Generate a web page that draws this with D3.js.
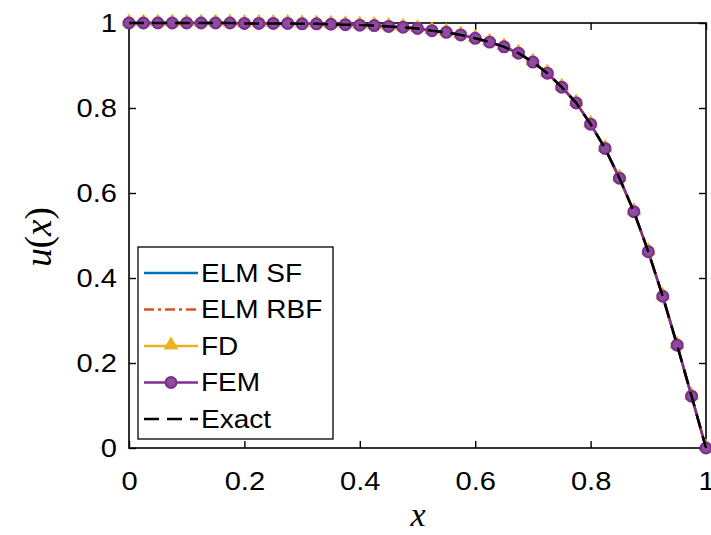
<!DOCTYPE html>
<html>
<head>
<meta charset="utf-8">
<script src="https://cdn.jsdelivr.net/npm/d3@7"></script>
<style>
  body { margin: 0; background: #fff; }
  svg text { font-family: "Liberation Sans", Arial, sans-serif; }
  .stretch { transform-box: fill-box; }
</style>
</head>
<body>
<svg id="chart" width="711" height="535"></svg>
<script>
const xs = [0, 0.025, 0.05, 0.075, 0.1, 0.125, 0.15, 0.175, 0.2, 0.225,
  0.25, 0.275, 0.3, 0.325, 0.35, 0.375, 0.4, 0.425, 0.45, 0.475,
  0.5, 0.525, 0.55, 0.575, 0.6, 0.625, 0.65, 0.675, 0.7, 0.725,
  0.75, 0.775, 0.8, 0.825, 0.85, 0.875, 0.9, 0.925, 0.95, 0.975, 1];

// u(x) values
const uExact = [1.000, 1.000, 1.000, 1.000, 1.000, 1.000, 1.000, 1.000, 0.999, 0.999,
  0.999, 0.999, 0.998, 0.998, 0.997, 0.996, 0.995, 0.994, 0.992, 0.990,
  0.987, 0.982, 0.978, 0.972, 0.964, 0.955, 0.944, 0.929, 0.908, 0.882,
  0.849, 0.812, 0.762, 0.705, 0.635, 0.556, 0.462, 0.357, 0.242, 0.122, 0.000];
// the numerical solutions sit on top of the exact one in the picture
const uElmSF = uExact.slice();
const uElmRBF = uExact.slice();
const uFD = uExact.slice();
const uFEM = uExact.slice();

const xTicks = [0, 0.2, 0.4, 0.6, 0.8, 1];
const yTicks = [0, 0.2, 0.4, 0.6, 0.8, 1];
const legendNames = ["ELM SF", "ELM RBF", "FD", "FEM", "Exact"];

const svg = d3.select("#chart");
const plotLeft = 129, plotRight = 706, plotTop = 23, plotBottom = 448;
const STRETCH = "scaleX(1.12)"; // the reference text is a bit wide

const x = d3.scaleLinear().domain([0, 1]).range([plotLeft, plotRight]);
const y = d3.scaleLinear().domain([0, 1]).range([plotBottom, plotTop]);

const colors = {
  sf: "#0072BD",
  rbf: "#D95319",
  fd: "#EDB120",
  fem: "#7E2F8E",
  femFill: "#8c4d9c",
  exact: "#000000"
};

// axes with inward ticks
let gx = svg.append("g").attr("transform", "translate(0," + plotBottom + ")")
  .call(d3.axisBottom(x).tickValues(xTicks).tickFormat(d3.format("~g"))
    .tickSizeInner(-7).tickSizeOuter(0).tickPadding(24));
let gy = svg.append("g").attr("transform", "translate(" + plotLeft + ",0)")
  .call(d3.axisLeft(y).tickValues(yTicks).tickFormat(d3.format("~g"))
    .tickSizeInner(-7).tickSizeOuter(0).tickPadding(12));
let gxTop = svg.append("g").attr("transform", "translate(0," + plotTop + ")")
  .call(d3.axisTop(x).tickValues(xTicks).tickSizeInner(-7).tickSizeOuter(0).tickFormat(""));
let gyRight = svg.append("g").attr("transform", "translate(" + plotRight + ",0)")
  .call(d3.axisRight(y).tickValues(yTicks).tickSizeInner(-7).tickSizeOuter(0).tickFormat(""));

[gx, gy, gxTop, gyRight].forEach(function (g) {
  g.select(".domain").remove();
  g.selectAll("line").attr("stroke", "#000").attr("stroke-width", 1.4);
  g.selectAll("text").attr("fill", "#000").style("font-size", "26px")
    .attr("class", "stretch");
});
gx.selectAll("text").style("transform-origin", "center").style("transform", STRETCH);
gy.selectAll("text").style("transform-origin", "right center").style("transform", STRETCH);

svg.append("rect")
  .attr("x", plotLeft).attr("y", plotTop)
  .attr("width", plotRight - plotLeft).attr("height", plotBottom - plotTop)
  .attr("fill", "none").attr("stroke", "#000").attr("stroke-width", 1.6);

// data lines
function lineOf(vals) {
  return d3.line()
    .x(function (d, i) { return x(xs[i]); })
    .y(function (d) { return y(d); })(vals);
}

svg.append("path").attr("d", lineOf(uElmSF))
  .attr("fill", "none").attr("stroke", colors.sf).attr("stroke-width", 2.5);
svg.append("path").attr("d", lineOf(uElmRBF))
  .attr("fill", "none").attr("stroke", colors.rbf).attr("stroke-width", 2.5)
  .attr("stroke-dasharray", "14,5,3,5");
svg.append("path").attr("d", lineOf(uFD))
  .attr("fill", "none").attr("stroke", colors.fd).attr("stroke-width", 2.5);

const tri = d3.symbol().type(d3.symbolTriangle).size(80);
svg.append("g").selectAll("path")
  .data(uFD)
  .join("path")
  .attr("d", tri)
  .attr("transform", function (d, i) { return "translate(" + x(xs[i]) + "," + (y(d) - 1) + ")"; })
  .attr("fill", colors.fd).attr("stroke", colors.fd).attr("stroke-width", 1);

svg.append("path").attr("d", lineOf(uFEM))
  .attr("fill", "none").attr("stroke", colors.fem).attr("stroke-width", 2.5);
svg.append("g").selectAll("circle")
  .data(uFEM)
  .join("circle")
  .attr("cx", function (d, i) { return x(xs[i]); })
  .attr("cy", function (d) { return y(d); })
  .attr("r", 5.4)
  .attr("fill", colors.femFill)
  .attr("stroke", colors.fem).attr("stroke-width", 2.2);

svg.append("path").attr("d", lineOf(uExact))
  .attr("fill", "none").attr("stroke", colors.exact).attr("stroke-width", 2.5)
  .attr("stroke-dasharray", "15,8");

// axis labels (LaTeX style)
svg.append("text")
  .attr("transform", "translate(51,237) rotate(-90)")
  .attr("text-anchor", "middle")
  .style("font-family", "'Liberation Serif', 'DejaVu Serif', serif")
  .style("font-size", "37px")
  .html("<tspan font-style='italic'>u</tspan>(<tspan font-style='italic'>x</tspan>)");
svg.append("text")
  .attr("x", 418).attr("y", 526)
  .attr("text-anchor", "middle")
  .style("font-family", "'Liberation Serif', 'DejaVu Serif', serif")
  .style("font-size", "34px").style("font-style", "italic")
  .text("x");

// legend
const legend = svg.append("g");
legend.append("rect")
  .attr("x", 138).attr("y", 247).attr("width", 195).attr("height", 192)
  .attr("fill", "#fff").attr("stroke", "#000").attr("stroke-width", 1.3);

const rowY = d3.scalePoint().domain(legendNames).range([273, 419]);
const legendStyle = {
  "ELM SF": { color: colors.sf, dash: null },
  "ELM RBF": { color: colors.rbf, dash: "10,4,3,4" },
  "FD": { color: colors.fd, dash: null },
  "FEM": { color: colors.fem, dash: null },
  "Exact": { color: colors.exact, dash: "15,8" }
};

legendNames.forEach(function (name) {
  let yy = rowY(name);
  let st = legendStyle[name];
  let ln = legend.append("line")
    .attr("x1", 144).attr("x2", 198).attr("y1", yy).attr("y2", yy)
    .attr("stroke", st.color).attr("stroke-width", 2.5);
  if (st.dash) ln.attr("stroke-dasharray", st.dash);
  if (name === "FD") {
    legend.append("path").attr("d", tri)
      .attr("transform", "translate(171," + (yy - 1) + ")")
      .attr("fill", colors.fd).attr("stroke", colors.fd);
  }
  if (name === "FEM") {
    legend.append("circle").attr("cx", 171).attr("cy", yy).attr("r", 5.4)
      .attr("fill", colors.femFill).attr("stroke", colors.fem).attr("stroke-width", 2.2);
  }
  legend.append("text")
    .attr("x", 201).attr("y", yy).attr("dy", "0.36em")
    .attr("class", "stretch")
    .style("font-size", "25px")
    .style("transform-origin", "left center").style("transform", STRETCH)
    .text(name);
});
</script>
</body>
</html>
